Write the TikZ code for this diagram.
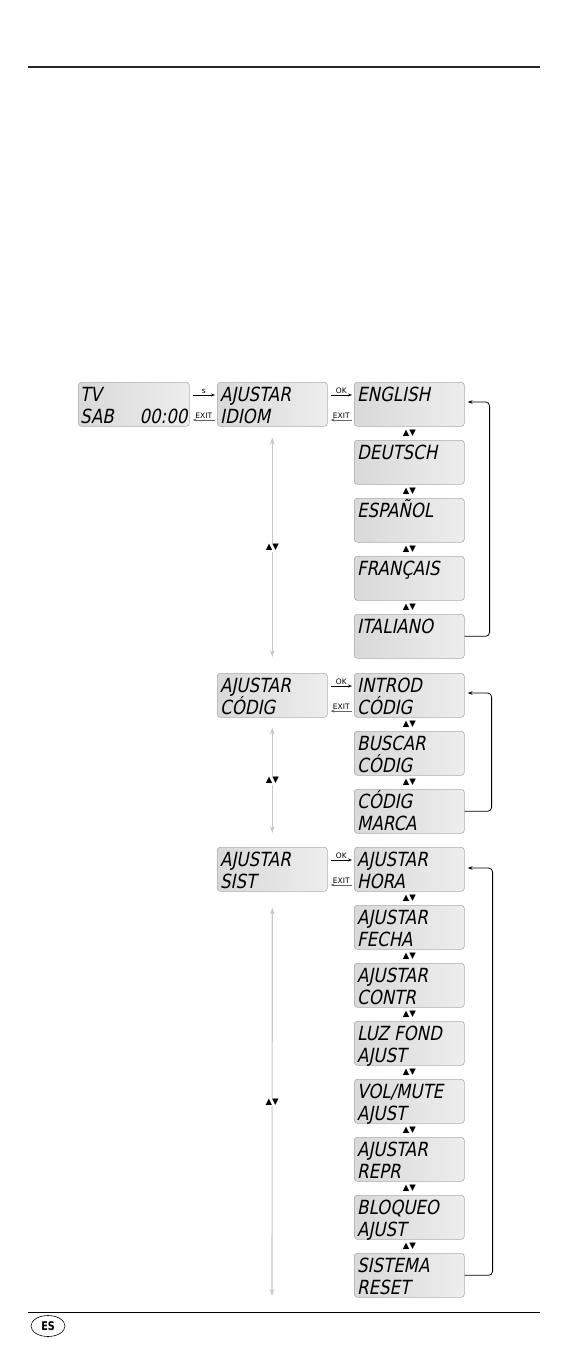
\documentclass[tikz,border=0pt]{standalone}
\usepackage{fontspec}
\newfontfamily\lcdfont[FakeSlant=0.2,FakeStretch=0.85]{DejaVu Sans}
\newfontfamily\symfont{DejaVu Sans}
\newfontfamily\esfont[FakeStretch=0.8]{DejaVu Sans}
\usetikzlibrary{arrows.meta,shapes.geometric,calc}

\newcommand\lcdscreen[5]{%
  \node[lcdbox] (#1) at (#2,#3) {};
  \node[lcdtext] (#1a) at ([xshift=3pt,yshift=-19pt]#1.north west) {#4};
  \node[lcdtext] (#1b) at ([xshift=3pt,yshift=-41pt]#1.north west) {#5};}
\newcommand\updown[2]{%
  \node[sym] at ($(#1.south)!0.5!(#2.north)$) {▲▼};}

\begin{document}
\begin{tikzpicture}[x=1pt,y=-1pt,
  lcdbox/.style={draw=gray!65, line width=0.6pt, rounded corners=3pt,
    minimum width=110pt, minimum height=44pt, inner sep=0pt, anchor=north west,
    left color=gray!30, middle color=white, right color=gray!14},
  lcdtext/.style={anchor=base west, inner sep=0pt, font=\lcdfont\fontsize{19.5}{22}\selectfont},
  sym/.style={inner sep=1pt, font=\symfont\fontsize{8.5}{9}\selectfont},
  lbl/.style={inner sep=0.8pt, font=\symfont\fontsize{7.5}{8}\selectfont},
  harrow/.style={line width=0.6pt, -{Stealth[length=4pt,width=3pt]}},
  exitarrow/.style={line width=0.6pt, draw=gray!80!black, -{Stealth[length=4pt,width=3pt]}},
  varrow/.style={line width=1.1pt, draw=gray!45, {Stealth[length=7pt,width=4.5pt]}-{Stealth[length=7pt,width=4.5pt]}},
  looparrow/.style={line width=0.8pt, rounded corners=4pt, -{Stealth[length=5pt,width=3.5pt]}}
]
\useasboundingbox (0,0) rectangle (568,1363);

% rules
\coordinate (tl) at (28,67); \coordinate (tr) at (540,67);
\draw[line width=2pt, draw=black!85] (tl) -- (tr);
\coordinate (bl) at (28,1312); \coordinate (br) at (540,1312);
\draw[line width=0.8pt] (bl) -- (br);
\node[ellipse, draw, line width=0.6pt, minimum width=34pt, minimum height=21pt, inner sep=0pt,
  font=\esfont\bfseries\fontsize{12}{12}\selectfont] (es) at (48,1326) {ES};

% TV screen
\node[lcdbox, minimum width=111pt] (tv) at (78,382) {};
\node[lcdtext] (tva) at ([xshift=2pt,yshift=-19pt]tv.north west) {TV};
\node[lcdtext] (tvb) at ([xshift=2pt,yshift=-41pt]tv.north west) {SAB};
\node[lcdtext, anchor=base east] (tvc) at ([xshift=-2pt,yshift=-41pt]tv.north east) {00:00};

% middle column
\lcdscreen{idiom}{217}{382}{AJUSTAR}{IDIOM}
\lcdscreen{cod}{217}{673}{AJUSTAR}{CÓDIG}
\lcdscreen{sist}{217}{847}{AJUSTAR}{SIST}

% right column: language
\lcdscreen{eng}{354}{382}{ENGLISH}{}
\lcdscreen{deu}{354}{440}{DEUTSCH}{}
\lcdscreen{esp}{354}{498}{ESPAÑOL}{}
\lcdscreen{fra}{354}{556}{FRANÇAIS}{}
\lcdscreen{ita}{354}{614}{ITALIANO}{}

% right column: code
\lcdscreen{intr}{354}{673}{INTROD}{CÓDIG}
\lcdscreen{busc}{354}{731}{BUSCAR}{CÓDIG}
\lcdscreen{marc}{354}{789}{CÓDIG}{MARCA}

% right column: system
\lcdscreen{hora}{354}{847}{AJUSTAR}{HORA}
\lcdscreen{fech}{354}{905}{AJUSTAR}{FECHA}
\lcdscreen{cont}{354}{963}{AJUSTAR}{CONTR}
\lcdscreen{luz}{354}{1021}{LUZ FOND}{AJUST}
\lcdscreen{vol}{354}{1079}{VOL/MUTE}{AJUST}
\lcdscreen{repr}{354}{1137}{AJUSTAR}{REPR}
\lcdscreen{bloq}{354}{1195}{BLOQUEO}{AJUST}
\lcdscreen{res}{354}{1253}{SISTEMA}{RESET}

% up/down markers
\updown{eng}{deu}
\updown{deu}{esp}
\updown{esp}{fra}
\updown{fra}{ita}
\updown{intr}{busc}
\updown{busc}{marc}
\updown{hora}{fech}
\updown{fech}{cont}
\updown{cont}{luz}
\updown{luz}{vol}
\updown{vol}{repr}
\updown{repr}{bloq}
\updown{bloq}{res}

% horizontal arrows
\draw[harrow] ([xshift=3pt,yshift=-13pt]tv.north east) -- ([xshift=-2pt,yshift=-13pt]idiom.north west)
  node[midway, above, lbl] {s};
\draw[exitarrow] ([xshift=-2pt,yshift=-38pt]idiom.north west) -- ([xshift=3pt,yshift=-38pt]tv.north east)
  node[midway, above, lbl] {EXIT};
\draw[harrow] ([xshift=3pt,yshift=-13pt]idiom.north east) -- ([xshift=-2pt,yshift=-13pt]eng.north west)
  node[midway, above, lbl] {OK};
\draw[exitarrow] ([xshift=-2pt,yshift=-38pt]eng.north west) -- ([xshift=3pt,yshift=-38pt]idiom.north east)
  node[midway, above, lbl] {EXIT};
\draw[harrow] ([xshift=3pt,yshift=-13pt]cod.north east) -- ([xshift=-2pt,yshift=-13pt]intr.north west)
  node[midway, above, lbl] {OK};
\draw[exitarrow] ([xshift=-2pt,yshift=-38pt]intr.north west) -- ([xshift=3pt,yshift=-38pt]cod.north east)
  node[midway, above, lbl] {EXIT};
\draw[harrow] ([xshift=3pt,yshift=-13pt]sist.north east) -- ([xshift=-2pt,yshift=-13pt]hora.north west)
  node[midway, above, lbl] {OK};
\draw[exitarrow] ([xshift=-2pt,yshift=-38pt]hora.north west) -- ([xshift=3pt,yshift=-38pt]sist.north east)
  node[midway, above, lbl] {EXIT};

% vertical gray arrows
\draw[varrow] ([yshift=-11pt]idiom.south) -- ([yshift=16pt]cod.north)
  node[midway, fill=white, sym] {▲▼};
\draw[varrow] ([yshift=-10pt]cod.south) -- ([yshift=14pt]sist.north)
  node[midway, fill=white, sym] {▲▼};
\coordinate (vend) at (272,1296);
\draw[varrow] ([yshift=-16pt]sist.south) -- (vend)
  node[midway, fill=white, sym] {▲▼};

% loop arrows
\draw[looparrow] (ita.east) -- ++(25,0) |- ([xshift=3pt,yshift=-20pt]eng.north east);
\draw[looparrow] (marc.east) -- ++(27,0) |- ([xshift=3pt,yshift=-20pt]intr.north east);
\draw[looparrow] (res.east) -- ++(28,0) |- ([xshift=3pt,yshift=-21pt]hora.north east);
\end{tikzpicture}
\end{document}
